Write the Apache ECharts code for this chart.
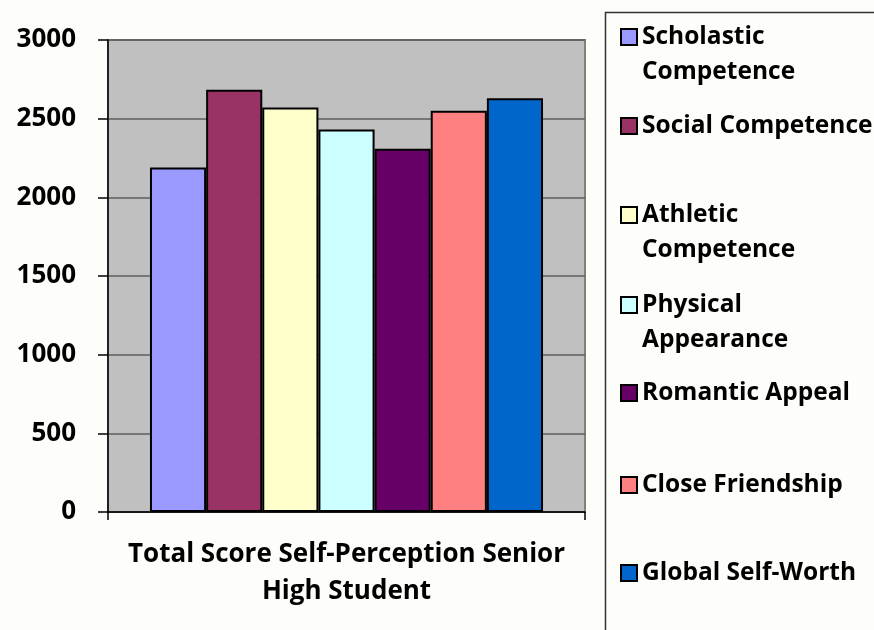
<!DOCTYPE html>
<html>
<head>
<meta charset="utf-8">
<script src="https://cdn.jsdelivr.net/npm/echarts@6/dist/echarts.min.js"></script>
<style>
  html, body { margin: 0; padding: 0; background: #fdfdf9; }
  #main { width: 874px; height: 630px; }
</style>
</head>
<body>
<div id="main"></div>
<script>
// data
var category = ['Total Score Self-Perception Senior\nHigh Student'];
var seriesNames = ['Scholastic Competence', 'Social Competence', 'Athletic Competence',
  'Physical Appearance', 'Romantic Appeal', 'Close Friendship', 'Global Self-Worth'];
var legendLabels = ['Scholastic\nCompetence', 'Social Competence', 'Athletic\nCompetence',
  'Physical\nAppearance', 'Romantic Appeal', 'Close Friendship', 'Global Self-Worth'];
var values = [2190, 2684, 2571, 2431, 2309, 2550, 2630];
var colors = ['#9999ff', '#993366', '#ffffcc', '#ccffff', '#660066', '#ff8080', '#0066cc'];
var yTicks = { min: 0, max: 3000, interval: 500 };

var font = '"Open Sans", Lato, sans-serif';

var chartDom = document.getElementById('main');
var myChart = echarts.init(chartDom, null, { renderer: 'canvas' });

// legend rows: centre y of first text line
var rowY = [37, 126, 215, 305, 393, 485, 573];

var legends = [];
var series = [];
for (let i = 0; i < seriesNames.length; i++) {
  let twoLine = legendLabels[i].indexOf('\n') >= 0;
  legends.push({
    data: [{ name: seriesNames[i], icon: 'rect' }],
    orient: 'vertical',
    left: 620,
    top: twoLine ? rowY[i] - 52.5 : rowY[i] - 17.5,
    padding: 0,
    itemWidth: 16,
    itemHeight: 16,
    selectedMode: false,
    formatter: function () {
      // blank first line keeps the icon next to the first text line
      return twoLine ? ' \n' + legendLabels[i] : legendLabels[i];
    },
    textStyle: {
      fontFamily: font,
      fontWeight: 'bold',
      fontSize: 24.5,
      lineHeight: 35,
      color: '#000'
    }
  });
  series.push({
    name: seriesNames[i],
    type: 'bar',
    data: [values[i]],
    barGap: '0%',
    barCategoryGap: '17.6%',
    itemStyle: {
      color: colors[i],
      borderColor: '#000',
      borderWidth: 2
    }
  });
}

var option = {
  backgroundColor: '#fdfdf9',
  animation: false,
  grid: {
    left: 108,
    top: 40,
    right: 289,
    bottom: 118,
    show: true,
    backgroundColor: '#c0c0c0',
    borderColor: '#808080',
    borderWidth: 2
  },
  legend: legends,
  graphic: [{
    type: 'rect',
    left: 603,
    top: 10,
    shape: { width: 300, height: 650 },
    style: { fill: 'none', stroke: '#333', lineWidth: 1.5 },
    silent: true
  }],
  xAxis: [{
    type: 'category',
    data: category,
    axisLine: { lineStyle: { color: '#000', width: 1.5 } },
    axisTick: { show: true, length: 8, lineStyle: { color: '#000', width: 1.5 } },
    axisLabel: {
      margin: 24,
      fontFamily: font,
      fontWeight: 'bold',
      fontSize: 26,
      lineHeight: 37,
      color: '#000'
    }
  }],
  yAxis: [{
    type: 'value',
    min: yTicks.min,
    max: yTicks.max,
    interval: yTicks.interval,
    axisLine: { show: true, lineStyle: { color: '#000', width: 1.5 } },
    axisTick: { show: true, length: 10, lineStyle: { color: '#000', width: 1.5 } },
    splitLine: { show: true, lineStyle: { color: '#5e5e5e', width: 1.5 } },
    axisLabel: {
      margin: 32,
      fontFamily: font,
      fontWeight: 'bold',
      fontSize: 26,
      color: '#000',
      formatter: function (v) { return String(v); }
    }
  }],
  series: series
};

option && myChart.setOption(option);
</script>
</body>
</html>
